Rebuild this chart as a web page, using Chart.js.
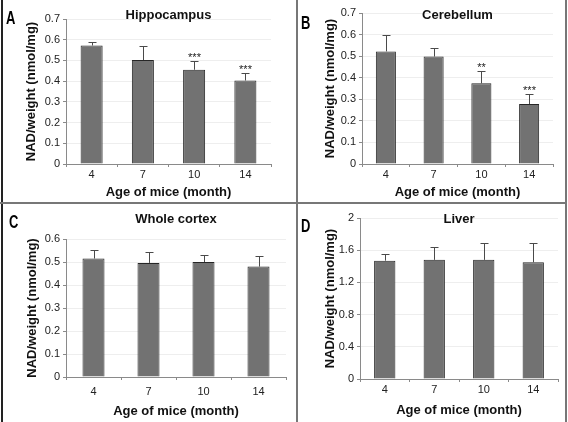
<!DOCTYPE html>
<html>
<head>
<meta charset="utf-8">
<script src="https://cdn.jsdelivr.net/npm/chart.js@4/dist/chart.umd.min.js"></script>
<style>
  html, body { margin: 0; padding: 0; background: #fff; }
  #fig { position: relative; width: 568px; height: 422px; overflow: hidden; }
  .panel { position: absolute; }
  .letter { position: absolute; font-family: "Liberation Sans Narrow", "Liberation Sans", sans-serif;
            font-weight: bold; font-size: 18px; line-height: 1; color: #000;
            transform: scaleX(0.72); transform-origin: 0 0; }
  .rule { position: absolute; background: #777; }
</style>
</head>
<body>
<div id="fig">
  <div class="rule" style="left:1px;top:0;width:2px;height:422px;background:#222"></div>
  <div class="rule" style="left:296px;top:0;width:2px;height:422px"></div>
  <div class="rule" style="left:565px;top:0;width:2px;height:422px"></div>
  <div class="rule" style="left:0;top:202px;width:567px;height:2px"></div>

  <div class="panel" style="left:0;top:0;width:296px;height:203px"><canvas id="cA"></canvas></div>
  <div class="panel" style="left:298px;top:0;width:267px;height:203px"><canvas id="cB"></canvas></div>
  <div class="panel" style="left:0;top:204px;width:296px;height:218px"><canvas id="cC"></canvas></div>
  <div class="panel" style="left:298px;top:204px;width:267px;height:218px"><canvas id="cD"></canvas></div>

  <span class="letter" style="left:6px;top:9px">A</span>
  <span class="letter" style="left:301px;top:14px">B</span>
  <span class="letter" style="left:9px;top:213px">C</span>
  <span class="letter" style="left:301px;top:217px">D</span>
</div>
<script>
//______________________________________________________
// values
var Ages = ['4', '7', '10', '14'];

var HippoMean  = [0.572, 0.502, 0.455, 0.403];
var HippoErr   = [0.016, 0.068, 0.042, 0.036];
var HippoStars = ['', '', '***', '***'];

var CereMean   = [0.522, 0.498, 0.374, 0.278];
var CereErr    = [0.076, 0.038, 0.056, 0.046];
var CereStars  = ['', '', '**', '***'];

var CortexMean = [0.515, 0.496, 0.500, 0.480];
var CortexErr  = [0.038, 0.048, 0.032, 0.048];
var CortexStars = ['', '', '', ''];

var LiverMean  = [1.47, 1.48, 1.48, 1.45];
var LiverErr   = [0.085, 0.165, 0.21, 0.245];
var LiverStars = ['', '', '', ''];

const BarFill   = '#727272';
const BarEdge   = '#262626';
const ErrColor  = '#4a4a4a';
const AxisColor = '#8a8a8a';
const GridColor = '#eeeeee';
const FontFam   = '"Liberation Sans", Arial, sans-serif';

//______________________________________________________
// upper error bars + significance stars
const errorBars = {
    id: 'errorBars',
    afterDatasetsDraw(chart, args, opts) {
        var ctx = chart.ctx;
        var yScale = chart.scales.y;
        var vals = chart.data.datasets[0].data;
        var meta = chart.getDatasetMeta(0);
        ctx.save();
        ctx.strokeStyle = ErrColor;
        ctx.lineWidth = 1;
        meta.data.forEach(function (bar, i) {
            var x = Math.round(bar.x) + 0.5;
            var top = Math.round(yScale.getPixelForValue(vals[i] + opts.err[i])) + 0.5;
            ctx.beginPath();
            ctx.moveTo(x, bar.y);
            ctx.lineTo(x, top);
            ctx.moveTo(x - 4, top);
            ctx.lineTo(x + 4, top);
            ctx.stroke();
            if (opts.stars[i]) {
                ctx.fillStyle = '#222';
                ctx.font = '11px ' + FontFam;
                ctx.textAlign = 'center';
                ctx.textBaseline = 'alphabetic';
                ctx.fillText(opts.stars[i], x, top - 1);
            }
        });
        ctx.restore();
    }
};
//______________________________________________________
// panel title drawn over the plot (it sits partly inside the axes box)
const panelTitle = {
    id: 'panelTitle',
    afterDraw(chart, args, opts) {
        var ctx = chart.ctx;
        var area = chart.chartArea;
        ctx.save();
        ctx.fillStyle = '#111';
        ctx.font = 'bold 13px ' + FontFam;
        ctx.textAlign = 'center';
        ctx.textBaseline = 'middle';
        ctx.fillText(opts.text, (area.left + area.right) / 2 + (opts.dx || 0), opts.y);
        ctx.restore();
    }
};
//______________________________________________________
function tickText (v) { // 2 not 2.0, 0.3 not 0.30000000000000004
    return String(Math.round(v * 10) / 10);
}
//______________________________________________________
function makePanel (id, means, errs, stars, title, yMax, yStep, lay) {
    return new Chart(id, {
        type: 'bar',
        data: {
            labels: Ages,
            datasets: [{
                data: means,
                backgroundColor: BarFill,
                borderColor: BarEdge,
                borderWidth: 1,
                categoryPercentage: 1,
                barPercentage: lay.barPct
            }]
        },
        plugins: [errorBars, panelTitle],
        options: {
            responsive: true,
            maintainAspectRatio: false,
            animation: false,
            layout: { padding: { top: lay.padTop, right: lay.padRight, left: 0, bottom: 0 } },
            plugins: {
                legend: { display: false },
                tooltip: { enabled: false },
                errorBars: { err: errs, stars: stars },
                panelTitle: { text: title, y: lay.titleY, dx: lay.titleDx || 0 }
            },
            scales: {
                x: {
                    offset: true,
                    grid: { offset: true, drawOnChartArea: false, tickLength: 3, tickColor: AxisColor },
                    border: { color: AxisColor },
                    ticks: { color: '#222', padding: lay.xTickPad, font: { family: FontFam, size: 11 } },
                    title: {
                        display: true, text: 'Age of mice (month)', color: '#111',
                        font: { family: FontFam, size: 13, weight: 'bold' },
                        padding: { top: 0, bottom: lay.xTitlePad }
                    },
                    afterFit: function (s) { s.height = lay.xHeight; }
                },
                y: {
                    min: 0, max: yMax,
                    grid: { color: GridColor, tickLength: 3, tickColor: AxisColor },
                    border: { color: AxisColor },
                    ticks: { stepSize: yStep, color: '#222', padding: 3, font: { family: FontFam, size: 11 },
                             callback: tickText },
                    title: {
                        display: true, text: 'NAD/weight (nmol/mg)', color: '#111',
                        font: { family: FontFam, size: 13, weight: 'bold' },
                        padding: { top: lay.yTitlePad, bottom: 0 }
                    },
                    afterFit: function (s) { s.width = lay.yWidth; }
                }
            }
        }
    });
}
//______________________________________________________
makePanel('cA', HippoMean, HippoErr, HippoStars, 'Hippocampus', 0.7, 0.1,
    { padTop: 19, padRight: 25, yWidth: 66, xHeight: 39, xTickPad: 1, xTitlePad: 3, yTitlePad: 24, titleY: 15, barPct: 0.43 });
makePanel('cB', CereMean, CereErr, CereStars, 'Cerebellum', 0.7, 0.1,
    { padTop: 13, padRight: 12, yWidth: 64, xHeight: 39, xTickPad: 1, xTitlePad: 3, yTitlePad: 25, titleY: 15, barPct: 0.42 });
makePanel('cC', CortexMean, CortexErr, CortexStars, 'Whole cortex', 0.6, 0.1,
    { padTop: 35, padRight: 10, yWidth: 66, xHeight: 45, xTickPad: 5, xTitlePad: 3, yTitlePad: 25, titleY: 15, barPct: 0.4 });
makePanel('cD', LiverMean, LiverErr, LiverStars, 'Liver', 2, 0.4,
    { padTop: 14, padRight: 7, yWidth: 62, xHeight: 43, xTickPad: 1, xTitlePad: 4, yTitlePad: 25, titleY: 15, barPct: 0.43 });
</script>
</body>
</html>
